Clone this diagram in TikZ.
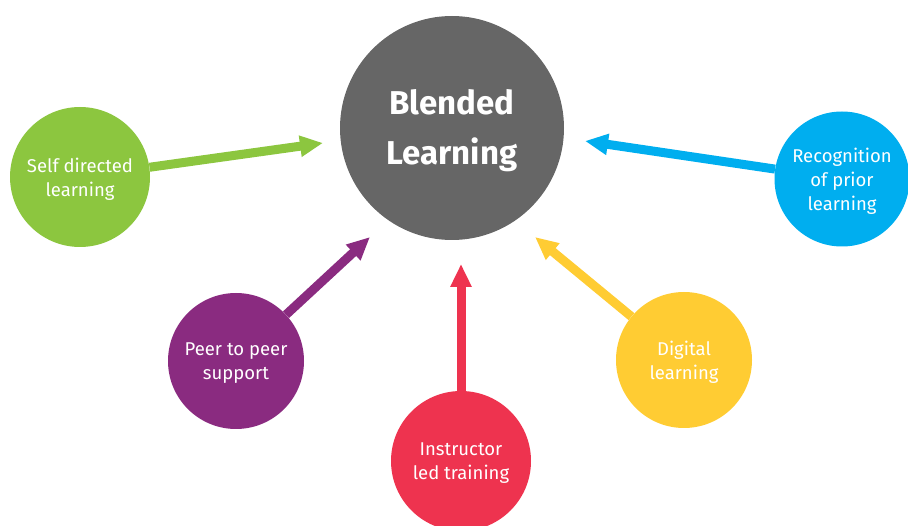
\documentclass[tikz,border=0pt]{standalone}
\usepackage{fontspec}
\setmainfont{Fira Sans}
\usetikzlibrary{arrows.meta}
\definecolor{cgray}{HTML}{666666}
\definecolor{cgreen}{HTML}{8CC63F}
\definecolor{cblue}{HTML}{00AEEF}
\definecolor{cpurple}{HTML}{8A2B80}
\definecolor{cred}{HTML}{EE334F}
\definecolor{cyellow}{HTML}{FFCC33}
\tikzset{
  bubble/.style={circle, inner sep=0pt, minimum size=#1},
  lbl/.style={text=white, align=center, yshift=-2.5pt,
    font=\fontsize{18.5}{24}\selectfont},
  biglbl/.style={text=white, align=center, yshift=-3pt,
    font=\fontsize{33}{50}\selectfont\bfseries},
  fatarrow/.style={draw=#1, line width=9pt, -{Triangle[width=20pt,length=23pt]}}
}
\begin{document}
\begin{tikzpicture}[x=1pt,y=-1pt]
\useasboundingbox (0,0) rectangle (908,526);
\begin{scope}
\clip (0,0) rectangle (908,526);
\node[bubble=224pt, fill=cgray, label={[biglbl]center:Blended\\Learning}] (main) at (452,128) {};
\node[bubble=140pt, fill=cgreen, label={[lbl]center:Self directed\\learning}] (self) at (80,177) {};
\node[bubble=135pt, fill=cblue, label={[lbl]center:Recognition\\of prior\\learning}] (rpl) at (842,179) {};
\node[bubble=136pt, fill=cpurple, label={[lbl]center:Peer to peer\\support}] (peer) at (236,361) {};
\node[bubble=140pt, fill=cred, label={[lbl]center:Instructor\\led training}] (instr) at (461,461) {};
\node[bubble=136pt, fill=cyellow, label={[lbl]center:Digital\\learning}] (digi) at (684,360) {};
\end{scope}
\coordinate (gt) at (323,143);
\coordinate (bt) at (585,141);
\coordinate (pt) at (370,237);
\coordinate (rt) at (461,264);
\coordinate (yt) at (535,237);
\draw[fatarrow=cgreen] (self) -- (gt);
\draw[fatarrow=cblue] (rpl) -- (bt);
\draw[fatarrow=cpurple] (peer) -- (pt);
\draw[fatarrow=cred] (instr) -- (rt);
\draw[fatarrow=cyellow] (digi) -- (yt);
\end{tikzpicture}
\end{document}
